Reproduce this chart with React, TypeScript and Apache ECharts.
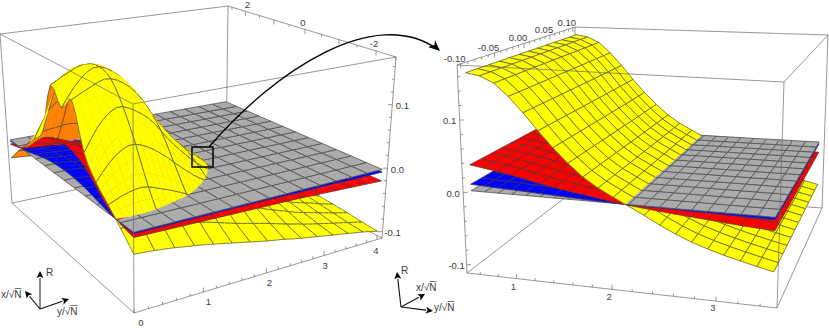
import React, { useEffect, useRef } from "react";
import * as echarts from "echarts";

// ---------- read-off values: R(x, y). Columns are |x|, rows are y ----------
const absX = [0, 0.417, 0.833, 1.25, 1.667, 2.083, 2.5];
const leftRowsY = [0, 0.25, 0.5, 0.75, 1, 1.25, 1.5, 1.75, 2, 2.25, 2.5, 2.75, 3, 3.25, 3.5, 3.75, 4];
// yellow for x < 0 (near side of the hump)
const leftYellow = [
  [0.110, 0.132, 0.064, 0.032, 0.012, -0.008, -0.030],
  [0.145, 0.145, 0.104, 0.062, 0.022, -0.009, -0.032],
  [0.164, 0.155, 0.122, 0.076, 0.026, -0.012, -0.035],
  [0.155, 0.145, 0.112, 0.068, 0.018, -0.018, -0.039],
  [0.130, 0.120, 0.092, 0.050, 0.008, -0.024, -0.043],
  [0.088, 0.080, 0.060, 0.028, -0.004, -0.030, -0.048],
  [0.055, 0.048, 0.033, 0.008, -0.016, -0.037, -0.053],
  [0.027, 0.023, 0.010, -0.007, -0.026, -0.044, -0.058],
  [0.006, 0.003, -0.006, -0.020, -0.035, -0.050, -0.063],
  [-0.011, -0.013, -0.020, -0.032, -0.044, -0.056, -0.067],
  [-0.028, -0.029, -0.034, -0.043, -0.053, -0.063, -0.072],
  [-0.043, -0.044, -0.047, -0.053, -0.061, -0.069, -0.076],
  [-0.054, -0.055, -0.058, -0.063, -0.069, -0.075, -0.080],
  [-0.063, -0.064, -0.066, -0.071, -0.075, -0.080, -0.084],
  [-0.070, -0.071, -0.073, -0.077, -0.081, -0.085, -0.088],
  [-0.078, -0.079, -0.081, -0.084, -0.087, -0.090, -0.092],
  [-0.085, -0.086, -0.088, -0.090, -0.092, -0.095, -0.097],
];
// yellow for x > 0 (far side of the hump)
const leftYellowFar = [
  [0.110, 0.136, 0.055, 0.032, 0.012, -0.008, -0.030],
  [0.145, 0.150, 0.125, 0.075, 0.028, -0.009, -0.032],
  [0.164, 0.160, 0.140, 0.090, 0.032, -0.012, -0.035],
  [0.155, 0.152, 0.130, 0.090, 0.034, -0.016, -0.039],
  [0.130, 0.128, 0.112, 0.075, 0.024, -0.022, -0.043],
  [0.088, 0.092, 0.085, 0.052, 0.010, -0.028, -0.048],
  [0.055, 0.058, 0.050, 0.026, -0.006, -0.036, -0.053],
  [0.027, 0.030, 0.022, 0.004, -0.020, -0.044, -0.058],
  [0.006, 0.006, -0.002, -0.016, -0.034, -0.050, -0.063],
  [-0.011, -0.013, -0.020, -0.032, -0.044, -0.056, -0.067],
  [-0.028, -0.029, -0.034, -0.043, -0.053, -0.063, -0.072],
  [-0.043, -0.044, -0.047, -0.053, -0.061, -0.069, -0.076],
  [-0.054, -0.055, -0.058, -0.063, -0.069, -0.075, -0.080],
  [-0.063, -0.064, -0.066, -0.071, -0.075, -0.080, -0.084],
  [-0.070, -0.071, -0.073, -0.077, -0.081, -0.085, -0.088],
  [-0.078, -0.079, -0.081, -0.084, -0.087, -0.090, -0.092],
  [-0.085, -0.086, -0.088, -0.090, -0.092, -0.095, -0.097],
];
const coarseRowsY = [0, 0.5, 1, 1.5, 2, 2.5, 3, 3.5, 4];
const leftRed = [
  [0.058, 0.054, 0.044, 0.026, 0.007, -0.002, -0.007],
  [0.036, 0.034, 0.027, 0.015, 0.004, -0.004, -0.008],
  [0.025, 0.023, 0.017, 0.009, 0.001, -0.005, -0.009],
  [0.012, 0.010, 0.006, 0.001, -0.003, -0.006, -0.010],
  [0.001, 0.0005, -0.002, -0.004, -0.006, -0.008, -0.011],
  [-0.006, -0.006, -0.007, -0.008, -0.009, -0.011, -0.012],
  [-0.012, -0.012, -0.012, -0.012, -0.013, -0.013, -0.014],
  [-0.015, -0.015, -0.015, -0.015, -0.016, -0.016, -0.016],
  [-0.018, -0.018, -0.018, -0.018, -0.018, -0.018, -0.018],
];
const leftBlue = [
  [0.016, 0.015, 0.012, 0.007, 0.002, -0.001, -0.002],
  [0.009, 0.009, 0.007, 0.004, 0.001, -0.001, -0.002],
  [0.006, 0.006, 0.004, 0.002, 0.0003, -0.001, -0.002],
  [0.003, 0.002, 0.001, 0.0002, -0.001, -0.002, -0.002],
  [0.0002, 0.0001, -0.0005, -0.001, -0.0015, -0.002, -0.002],
  [-0.001, -0.001, -0.001, -0.002, -0.002, -0.003, -0.003],
  [-0.002, -0.002, -0.002, -0.003, -0.003, -0.003, -0.003],
  [-0.003, -0.003, -0.003, -0.003, -0.004, -0.004, -0.004],
  [-0.004, -0.004, -0.004, -0.004, -0.004, -0.004, -0.004],
];
const zoomRowsY = [0.5, 0.75, 1, 1.25, 1.5, 1.75, 2, 2.25, 2.5, 2.75, 3, 3.25, 3.5];
const zoomYellow = [0.164, 0.156, 0.128, 0.09, 0.055, 0.027, 0.008, -0.009, -0.027, -0.042, -0.053, -0.062, -0.07];
const zoomRed = [0.036, 0.031, 0.025, 0.018, 0.012, 0.007, 0.0015, -0.0025, -0.006, -0.009, -0.012, -0.015, -0.017];
const zoomBlue = [0.009, 0.0075, 0.006, 0.0045, 0.003, 0.0015, 0.0003, -0.0006, -0.001, -0.0015, -0.002, -0.0025, -0.003];

const leftYTicks = [0, 1, 2, 3, 4];
const leftXTicks = [2, 0, -2];
const leftRTicks = ["0.1", "0.0", "-0.1"];
const zoomYTicks = [1, 2, 3];
const zoomXTicks = ["-0.10", "-0.05", "0.00", "0.05", "0.10"];
const zoomRTicks = ["0.1", "0.0", "-0.1"];

const YELLOW = "#ffff00", ORANGE = "#ff8000", RED = "#ff0000", BLUE = "#0000ff", GRAY = "#ababab";
const MESH = "#404040", BOX = "#6a6a6a", TXT = "#3a3a3a";
const FONT = '"Liberation Sans", Arial, sans-serif';

type P = [number, number];
type Item =
  | { k: "poly"; pts: P[]; fill: string; edges: [P, P][]; mesh: string }
  | { k: "line"; a: P; b: P; c: string; w: number }
  | { k: "text"; at: P; t: string; size?: number; align?: string; c?: string }
  | { k: "head"; pts: P[] }
  | { k: "rect"; a: P; b: P }
  | { k: "curve"; a: P; c1: P; c2: P; b: P };

// projective map of the unit square on four corners
function homography(c: P[]) {
  const [[x0, y0], [x1, y1], [x2, y2], [x3, y3]] = c;
  const dx1 = x1 - x2, dx2 = x3 - x2, sx = x0 - x1 + x2 - x3;
  const dy1 = y1 - y2, dy2 = y3 - y2, sy = y0 - y1 + y2 - y3;
  const det = dx1 * dy2 - dx2 * dy1;
  const g = (sx * dy2 - dx2 * sy) / det;
  const h = (dx1 * sy - sx * dy1) / det;
  const a = x1 - x0 + g * x1, b = x3 - x0 + h * x3, d = y1 - y0 + g * y1, e = y3 - y0 + h * y3;
  return (u: number, v: number): P => {
    const w = g * u + h * v + 1;
    return [(a * u + b * v + x0) / w, (d * u + e * v + y0) / w];
  };
}

type Panel = {
  floor: P[]; top: P[]; xr: P; yr: P; rr: P; cam: [number, number, number];
};
function projector(p: Panel) {
  const f = homography(p.floor), t = homography(p.top);
  const uvw = (x: number, y: number, r: number) => [
    (x - p.xr[0]) / (p.xr[1] - p.xr[0]),
    (y - p.yr[0]) / (p.yr[1] - p.yr[0]),
    (r - p.rr[0]) / (p.rr[1] - p.rr[0]),
  ];
  return {
    uvw,
    at(x: number, y: number, r: number): P {
      const [u, v, w] = uvw(x, y, r);
      const a = f(u, v), b = t(u, v);
      return [a[0] + (b[0] - a[0]) * w, a[1] + (b[1] - a[1]) * w];
    },
  };
}

function cr(p: number[], s: number) {
  const n = p.length;
  if (n === 1) return p[0];
  const i = Math.max(0, Math.min(n - 2, Math.floor(s)));
  const t = s - i;
  const p1 = p[i], p2 = p[i + 1];
  const p0 = i > 0 ? p[i - 1] : 2 * p1 - p2;
  const p3 = i + 2 < n ? p[i + 2] : 2 * p2 - p1;
  return 0.5 * (2 * p1 + (p2 - p0) * t + (2 * p0 - 5 * p1 + 4 * p2 - p3) * t * t + (3 * p1 - p0 - 3 * p2 + p3) * t * t * t);
}
function nodeIndex(nodes: number[], v: number) {
  if (nodes.length === 1) return 0;
  let i = 0;
  while (i < nodes.length - 2 && v > nodes[i + 1]) i++;
  return i + (v - nodes[i]) / (nodes[i + 1] - nodes[i]);
}
function surface(xs: number[], ys: number[], z: number[][]) {
  return (x: number, y: number) => {
    const sx = nodeIndex(xs, x), sy = nodeIndex(ys, y);
    return cr(z.map((row) => cr(row, sx)), sy);
  };
}

type V = { x: number; y: number; r: number; m: boolean; soft: boolean };
function clip(v: V[], s: number): V[] {
  const out: V[] = [];
  for (let i = 0; i < v.length; i++) {
    const a = v[i], b = v[(i + 1) % v.length];
    const fa = s * a.r, fb = s * b.r;
    if (fa >= 0) out.push(a);
    if ((fa >= 0 && fb < 0) || (fa < 0 && fb >= 0)) {
      const t = fa / (fa - fb);
      out.push({ x: a.x + (b.x - a.x) * t, y: a.y + (b.y - a.y) * t, r: 0, m: fa < 0 ? a.m : false, soft: fa < 0 ? a.soft : false });
    }
  }
  return out;
}
const area = (p: P[]) => {
  let s = 0;
  p.forEach((a, i) => { const b = p[(i + 1) % p.length]; s += a[0] * b[1] - b[0] * a[1]; });
  return s;
};

function buildPanel(
  p: Panel,
  nx: number, ny: number, xr: P, yr: P,
  yel: (x: number, y: number) => number, red: (x: number, y: number) => number, blu: (x: number, y: number) => number,
  subY: number, subO: number, yellowRowOnHump: (j: number) => boolean,
) {
  const pr = projector(p);
  const sign = Math.sign(area([pr.at(xr[0], yr[0], 0), pr.at(xr[1], yr[0], 0), pr.at(xr[1], yr[1], 0), pr.at(xr[0], yr[1], 0)]));
  const X = (i: number) => xr[0] + ((xr[1] - xr[0]) * i) / nx;
  const Y = (j: number) => yr[0] + ((yr[1] - yr[0]) * j) / ny;
  const depth = (v: V[]) => {
    let d = 0;
    v.forEach((q) => {
      const [u, w, h] = pr.uvw(q.x, q.y, q.r);
      d += (u - p.cam[0]) ** 2 + (w - p.cam[1]) ** 2 + 0.5 * (h - p.cam[2]) ** 2;
    });
    return d / v.length;
  };
  type Q = { item: Item; d: number };
  const toItem = (v: V[], fill: string, dropSoft: boolean): Q => {
    const pts = v.map((q) => pr.at(q.x, q.y, q.r));
    const edges: [P, P][] = [];
    v.forEach((q, i) => { if (q.m && !(dropSoft && q.soft)) edges.push([pts[i], pts[(i + 1) % pts.length]]); });
    return { item: { k: "poly", pts, fill, edges, mesh: MESH }, d: depth(v) };
  };
  const cells = (f: (x: number, y: number) => number, sub: number, rowShown: (j: number) => boolean) => {
    const res: { v: V[]; back: boolean }[] = [];
    for (let i = 0; i < nx; i++) for (let j = 0; j < ny; j++) for (let a = 0; a < sub; a++) for (let b = 0; b < sub; b++) {
      const x0 = X(i) + ((X(i + 1) - X(i)) * a) / sub, x1 = X(i) + ((X(i + 1) - X(i)) * (a + 1)) / sub;
      const y0 = Y(j) + ((Y(j + 1) - Y(j)) * b) / sub, y1 = Y(j) + ((Y(j + 1) - Y(j)) * (b + 1)) / sub;
      const v: V[] = [
        { x: x0, y: y0, r: f(x0, y0), m: b === 0, soft: !rowShown(j) },
        { x: x1, y: y0, r: f(x1, y0), m: a === sub - 1, soft: false },
        { x: x1, y: y1, r: f(x1, y1), m: b === sub - 1, soft: !rowShown(j + 1) },
        { x: x0, y: y1, r: f(x0, y1), m: a === 0, soft: false },
      ];
      const back = Math.sign(area(v.map((q) => pr.at(q.x, q.y, q.r)))) !== sign;
      res.push({ v, back });
    }
    return res;
  };
  const all = () => true;
  const byDepth = (l: Q[]) => l.sort((a, b) => b.d - a.d).map((q) => q.item);
  const split = (f: (x: number, y: number) => number, sub: number, col: string, backCol: string, rowShown: (j: number) => boolean) => {
    const up: Q[] = [], upBack: Q[] = [], down: Q[] = [];
    cells(f, sub, rowShown).forEach(({ v, back }) => {
      const c = back ? backCol : col;
      const a = clip(v, 1), b = clip(v, -1);
      if (a.length > 2) (back ? upBack : up).push(toItem(a, c, true));
      if (b.length > 2) down.push(toItem(b, c, false));
    });
    return { up, upBack, down };
  };
  const Ys = split(yel, subY, YELLOW, ORANGE, yellowRowOnHump);
  const Rs = split(red, subO, RED, RED, all);
  const Bs = split(blu, subO, BLUE, BLUE, all);
  const gray = cells(() => 0, 1, all).map(({ v }) => toItem(v, GRAY, false).item);
  return [
    ...byDepth(Ys.down), ...byDepth(Rs.down), ...byDepth(Bs.down),
    ...gray,
    ...byDepth(Ys.upBack),
    ...byDepth([...Bs.up, ...Bs.upBack]), ...byDepth([...Rs.up, ...Rs.upBack]),
    ...byDepth(Ys.up),
  ];
}

function buildItems(): Item[] {
  const items: Item[] = [];
  const line = (a: P, b: P, c = BOX, w = 0.7) => items.push({ k: "line", a, b, c, w });

  // ---------- left panel ----------
  const L: Panel = {
    floor: [[134, 313], [12, 203], [226, 158], [382, 238]],
    top: [[133, 104], [0, 34], [228, 6], [396, 57]],
    xr: [-2.5, 2.65], yr: [0, 4.1], rr: [-0.11, 0.175], cam: [-0.5, -1.2, 2.5],
  };
  const fullX = [...absX.slice(1).reverse().map((v) => -v), ...absX];
  const mirror = (near: number[][], far: number[][]) => near.map((r, j) => [...r.slice(1).reverse(), ...far[j]]);
  const ly = surface(fullX, leftRowsY, mirror(leftYellow, leftYellowFar));
  const lr = surface(fullX, coarseRowsY, mirror(leftRed, leftRed));
  const lb = surface(fullX, coarseRowsY, mirror(leftBlue, leftBlue));

  const lb0 = L.floor, lt = L.top;
  line(lt[1], lt[2]); line(lt[2], lt[3]); line(lb0[1], lb0[2]); line(lb0[2], lb0[3]); line(lt[2], lb0[2]);
  line(lt[1], lb0[1]); line(lt[3], lb0[3]);
  items.push(...buildPanel(L, 12, 14, [-2.5, 2.5], [0, 4], ly, lr, lb, 3, 2, (j) => j >= 7 || j % 2 === 0));
  line(lt[0], lt[1]); line(lt[0], lt[3]); line(lt[0], lb0[0]); line(lb0[0], lb0[1]); line(lb0[0], lb0[3]);

  const pL = projector(L);
  for (let i = 0; i <= 20; i++) {
    const y = i * 0.2, maj = i % 5 === 0;
    const q = pL.at(L.xr[0], y, L.rr[0]);
    line(q, [q[0], q[1] - (maj ? 4.5 : 2.5)]);
  }
  leftYTicks.forEach((y) => {
    const q = pL.at(L.xr[0], y, L.rr[0]);
    items.push({ k: "text", at: [q[0] + 7 - 2 * y, q[1] + 9 + 0.4 * y], t: String(y) });
  });
  for (let i = -5; i <= 5; i++) {
    const x = i * 0.5, maj = i % 2 === 0;
    const q = pL.at(x, L.yr[1], L.rr[1]);
    line(q, [q[0], q[1] + (maj ? 4.5 : 2.5)]);
  }
  leftXTicks.forEach((x) => {
    const q = pL.at(x, L.yr[1], L.rr[1]);
    items.push({ k: "text", at: [q[0] + (x === 2 ? 2 : -2), q[1] - 7], t: String(x) });
  });
  for (let i = -5; i <= 8; i++) {
    const r = i * 0.02, maj = i % 5 === 0;
    const q = pL.at(L.xr[0], L.yr[1], r);
    line(q, [q[0] - (maj ? 4.5 : 2.5), q[1]]);
  }
  leftRTicks.forEach((t) => {
    const q = pL.at(L.xr[0], L.yr[1], parseFloat(t));
    items.push({ k: "text", at: [q[0] + 10, q[1] + 1], t });
  });

  // ---------- right panel ----------
  const R: Panel = {
    floor: [[467, 273], [575, 190], [822, 208], [777, 308]],
    top: [[457, 65], [575, 27], [828, 35], [784, 82]],
    xr: [-0.105, 0.105], yr: [0.45, 3.55], rr: [-0.1115, 0.176], cam: [-1.5, 0.55, 2.5],
  };
  const flat = (v: number[]) => v.map((q) => [q, q]);
  const ry = surface([-0.1, 0.1], zoomRowsY, flat(zoomYellow));
  const rr = surface([-0.1, 0.1], zoomRowsY, flat(zoomRed));
  const rb = surface([-0.1, 0.1], zoomRowsY, flat(zoomBlue));
  const rf = R.floor, rt = R.top;
  line(rt[2], rt[3]); line(rt[1], rt[2]); line(rf[0], rf[1]); line(rf[1], rf[2]); line(rf[2], rf[3]); line(rt[1], rf[1]); line(rt[2], rf[2]);
  items.push(...buildPanel(R, 12, 20, [-0.1, 0.1], [0.5, 3.5], ry, rr, rb, 1, 1, () => true));
  line(rt[0], rt[1]); line(rt[0], rt[3]); line(rt[0], rf[0]); line(rt[3], rf[3]); line(rf[0], rf[3]);

  const pR = projector(R);
  for (let i = 3; i <= 17; i++) {
    const y = i * 0.2, maj = i % 5 === 0;
    const q = pR.at(R.xr[0], y, R.rr[0]);
    line(q, [q[0], q[1] - (maj ? 4.5 : 2.5)]);
  }
  zoomYTicks.forEach((y) => {
    const q = pR.at(R.xr[0], y, R.rr[0]);
    items.push({ k: "text", at: [q[0] - 3, q[1] + 8 - 0.5 * y], t: String(y) });
  });
  for (let i = -10; i <= 10; i++) {
    const x = i * 0.01, maj = i % 5 === 0;
    const q = pR.at(x, R.yr[0], R.rr[1]);
    line(q, [q[0], q[1] + (maj ? 4.5 : 2.5)]);
  }
  zoomXTicks.forEach((t) => {
    const q = pR.at(parseFloat(t), R.yr[0], R.rr[1]);
    items.push({ k: "text", at: [q[0] - 6, q[1] - 5.5], t });
  });
  for (let i = -5; i <= 8; i++) {
    const r = i * 0.02, maj = i % 5 === 0;
    const q = pR.at(R.xr[0], R.yr[0], r);
    line(q, [q[0] + (maj ? 4.5 : 2.5), q[1]]);
  }
  zoomRTicks.forEach((t) => {
    const q = pR.at(R.xr[0], R.yr[0], parseFloat(t));
    items.push({ k: "text", at: [q[0] - 10, q[1] + 1], t });
  });

  // ---------- annotations ----------
  items.push({ k: "rect", a: [192, 147], b: [213, 167] });
  items.push({ k: "curve", a: [209, 147], c1: [275, 70], c2: [375, 5], b: [437, 49] });
  items.push({ k: "head", pts: [[440, 51], [428, 47], [434.5, 45], [435, 40]] });

  const arrow = (o: P, tip: P, c: string, w: number) => {
    const dx = tip[0] - o[0], dy = tip[1] - o[1], n = Math.hypot(dx, dy);
    const ux = dx / n, uy = dy / n;
    const base: P = [tip[0] - ux * 7, tip[1] - uy * 7];
    line(o, base, c, w);
    items.push({ k: "head", pts: [tip, [base[0] + uy * 3.5, base[1] - ux * 3.5], [tip[0] - ux * 5.5, tip[1] - uy * 5.5], [base[0] - uy * 3.5, base[1] + ux * 3.5]] });
  };
  arrow([40, 309], [40, 271], "#666", 1.5);
  arrow([40, 309], [25, 291], "#111", 1.1);
  arrow([40, 309], [69, 299], "#111", 1.1);
  arrow([401, 307], [397, 272], "#111", 1.1);
  arrow([401, 307], [425, 294], "#111", 1.1);
  arrow([401, 307], [433, 311], "#111", 1.1);
  const sym = (at: P, t: string) => {
    items.push({ k: "text", at, t, size: 10, align: "left" });
    if (t.length > 1) line([at[0] + 13.6, at[1] - 5.5], [at[0] + 20.5, at[1] - 5.5], TXT, 0.7);
  };
  sym([1, 294], "x/√N"); sym([57, 311], "y/√N"); sym([46, 272], "R");
  sym([416, 287], "x/√N"); sym([434, 307], "y/√N"); sym([401, 270], "R");
  return items;
}

export default function App() {
  const ref = useRef<HTMLDivElement>(null);
  useEffect(() => {
    document.body.style.margin = "0";
    const chart = echarts.init(ref.current!, undefined, { renderer: "svg" });
    const items = buildItems();
    chart.setOption({
      animation: false,
      backgroundColor: "#ffffff",
      grid: { left: 0, right: 0, top: 0, bottom: 0 },
      xAxis: { type: "value", min: 0, max: 829, show: false },
      yAxis: { type: "value", min: 0, max: 328, inverse: true, show: false },
      series: [{
        type: "custom",
        coordinateSystem: "cartesian2d",
        silent: true,
        clip: false,
        progressive: 0,
        data: items.map((_, i) => [i, 0]),
        encode: { x: 0, y: 1 },
        renderItem: (params: any, api: any) => {
          const it = items[params.dataIndex];
          const c = (p: P) => api.coord(p) as P;
          if (it.k === "poly") {
            return {
              type: "group",
              children: [
                { type: "polygon", shape: { points: it.pts.map(c) }, style: { fill: it.fill, stroke: it.fill, lineWidth: 0.4 } },
                ...it.edges.map(([a, b]) => {
                  const A = c(a), B = c(b);
                  return { type: "line", shape: { x1: A[0], y1: A[1], x2: B[0], y2: B[1] }, style: { stroke: it.mesh, lineWidth: 0.65 } };
                }),
              ],
            };
          }
          if (it.k === "line") {
            const A = c(it.a), B = c(it.b);
            return { type: "line", shape: { x1: A[0], y1: A[1], x2: B[0], y2: B[1] }, style: { stroke: it.c, lineWidth: it.w } };
          }
          if (it.k === "text") {
            const A = c(it.at);
            return { type: "text", x: A[0], y: A[1], style: { text: it.t, fontSize: it.size ?? 9.5, fontFamily: FONT, fill: it.c ?? TXT, align: it.align ?? "center", verticalAlign: "middle" } };
          }
          if (it.k === "head") return { type: "polygon", shape: { points: it.pts.map(c) }, style: { fill: "#000" } };
          if (it.k === "rect") {
            const A = c(it.a), B = c(it.b);
            return { type: "rect", shape: { x: A[0], y: A[1], width: B[0] - A[0], height: B[1] - A[1] }, style: { fill: "none", stroke: "#000", lineWidth: 1.5 } };
          }
          const A = c(it.a), B = c(it.b), C1 = c(it.c1), C2 = c(it.c2);
          return { type: "bezierCurve", shape: { x1: A[0], y1: A[1], x2: B[0], y2: B[1], cpx1: C1[0], cpy1: C1[1], cpx2: C2[0], cpy2: C2[1] }, style: { fill: "none", stroke: "#000", lineWidth: 1.4 } };
        },
      }],
    });
    return () => chart.dispose();
  }, []);
  return <div ref={ref} style={{ width: 829, height: 328 }} />;
}
